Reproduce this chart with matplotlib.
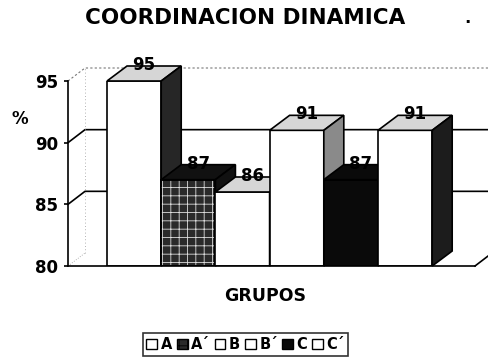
import numpy as np
import matplotlib
matplotlib.use('Agg')
import matplotlib.pyplot as plt
from matplotlib.patches import Polygon, Patch

plt.rcParams['font.family'] = ['DejaVu Sans']
plt.rcParams['font.weight'] = 'bold'
plt.rcParams['hatch.linewidth'] = 0.6

# data
grupos = ['A', 'A´', 'B', 'B´', 'C', 'C´']
valores = [95, 87, 86, 91, 87, 91]
y_ticks = [80, 85, 90, 95]

# styles (front, top, side, hatch on front)
front_c = ['white', '#2a2a2a', 'white', 'white', '#0a0a0a', 'white']
top_c = ['#d6d6d6', '#111111', '#d6d6d6', '#d6d6d6', '#0a0a0a', '#d6d6d6']
side_c = ['#262626', '#111111', '#3a3a3a', '#8a8a8a', '#0a0a0a', '#1c1c1c']
front_h = [None, '++', None, None, None, None]

W, H = 488, 364
fig = plt.figure(figsize=(W / 100, H / 100), dpi=100)
ax = fig.add_axes([68 / W, 98 / H, 407 / W, 185 / H])
x0, x1 = -0.72, 6.79
ax.set_xlim(x0, x1)
ax.set_ylim(80, 95)

# pixel -> data conversions for the fake depth
px_x = (x1 - x0) / 407.0
px_y = 15.0 / 185.0
bdx, bdy = 20 * px_x, 15 * px_y     # bar depth
wdx, wdy = 17 * px_x, 13 * px_y     # wall depth

# back walls / gridlines
for v in [85, 90]:
    ax.plot([x0, x0 + wdx, x1 + wdx + 1], [v, v + wdy, v + wdy],
            color='black', lw=1.2, clip_on=False, zorder=1)
ax.plot([x0, x0 + wdx, x1 + wdx], [95, 95 + wdy, 95 + wdy],
        color='#777777', lw=0.8, ls=(0, (2, 2)), clip_on=False, zorder=1)
ax.plot([x0 + wdx, x0 + wdx], [80 + wdy, 95 + wdy],
        color='#999999', lw=0.6, ls=(0, (1, 3)), clip_on=False, zorder=1)
ax.plot([x0, x0 + wdx], [80, 80 + wdy], color='#999999', lw=0.6,
        ls=(0, (1, 2)), clip_on=False, zorder=1)
ax.plot([x1, x1 + wdx], [80, 80 + wdy], color='black', lw=1.2,
        clip_on=False, zorder=1)

# bars
pos = np.arange(len(valores))
bars = ax.bar(pos, [v - 80 for v in valores], bottom=80, width=1.0,
              align='edge', color=front_c, edgecolor='black', lw=1.2)
for i, (b, v) in enumerate(zip(bars, valores)):
    z = 3 + i * 0.1
    b.set_zorder(z)
    l, r = pos[i], pos[i] + 1
    if front_h[i]:
        ax.add_patch(Polygon([(l, 80), (r, 80), (r, v), (l, v)], closed=True,
                             facecolor='none', edgecolor='#dddddd',
                             hatch=front_h[i], lw=0, zorder=z + 0.01))
        ax.add_patch(Polygon([(l, 80), (r, 80), (r, v), (l, v)], closed=True,
                             facecolor='none', edgecolor='black', lw=1.2,
                             zorder=z + 0.02))
    top = [(l, v), (r, v), (r + bdx, v + bdy), (l + bdx, v + bdy)]
    side = [(r, 80), (r + bdx, 80 + bdy), (r + bdx, v + bdy), (r, v)]
    ax.add_patch(Polygon(top, closed=True, facecolor=top_c[i],
                         edgecolor='black', lw=1.2, zorder=z + 0.03,
                         clip_on=False))
    ax.add_patch(Polygon(side, closed=True, facecolor=side_c[i],
                         edgecolor='black', lw=1.2, zorder=z + 0.03,
                         clip_on=False))
    ax.annotate(str(v), (l + 0.5 + bdx / 2, v + bdy / 2), xytext=(0, 6),
                textcoords='offset points', ha='center', va='center',
                fontsize=12, fontweight='bold', zorder=10,
                annotation_clip=False)

ax.spines['top'].set_visible(False)
ax.spines['right'].set_visible(False)
ax.spines['left'].set_linewidth(1.2)
ax.spines['bottom'].set_linewidth(1.2)
ax.spines['left'].set_zorder(2)
ax.spines['bottom'].set_zorder(20)
ax.set_xticks([])
ax.set_yticks(y_ticks)
ax.set_yticklabels([str(t) for t in y_ticks], fontsize=12, fontweight='bold')
ax.tick_params(axis='y', direction='out', length=3, width=1.2, pad=4)
ax.patch.set_alpha(0)

fig.text(245 / W, 1 - 18 / H, 'COORDINACION DINAMICA', ha='center',
         va='center', fontsize=15.5, fontweight='bold')
fig.text(467 / W, 1 - 18 / H, '.', ha='center', va='center', fontsize=12)
fig.text(20 / W, 1 - 119 / H, '%', ha='center', va='center', fontsize=12,
         fontweight='bold')
fig.text(265 / W, 1 - 296 / H, 'GRUPOS', ha='center', va='center',
         fontsize=12.5, fontweight='bold')

handles = []
for i in range(len(grupos)):
    handles.append(Patch(facecolor=front_c[i], edgecolor='black', lw=1.0,
                         hatch=front_h[i]))
leg = fig.legend(handles, grupos, loc='center', ncol=6,
                 bbox_to_anchor=(245.5 / W, 1 - 344.5 / H),
                 frameon=True, fancybox=False, handlelength=0.75,
                 handleheight=0.75, handletextpad=0.25, columnspacing=0.3,
                 borderpad=0.25, prop={'size': 10.5, 'weight': 'bold'})
leg.get_frame().set_edgecolor('black')
leg.get_frame().set_linewidth(1.2)

fig.savefig('out.png', dpi=100)
